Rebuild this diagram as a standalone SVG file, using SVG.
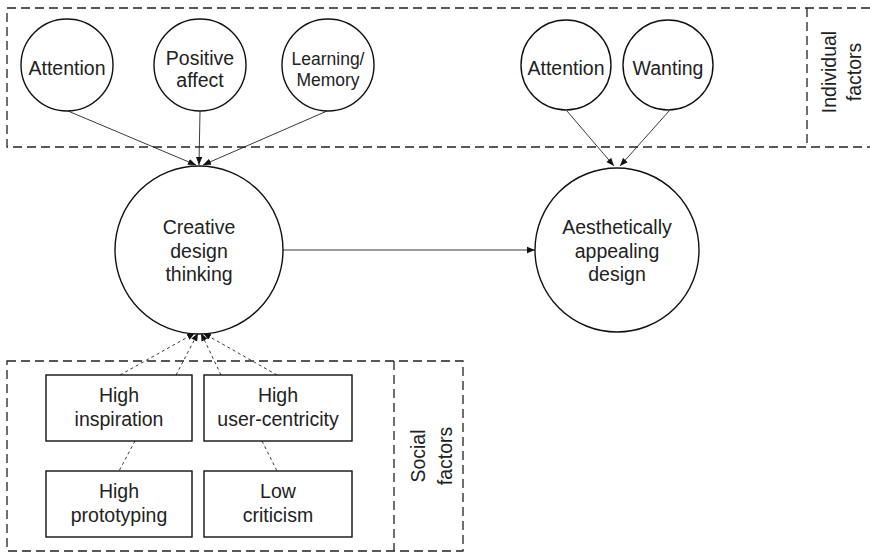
<svg xmlns="http://www.w3.org/2000/svg" width="870" height="553" viewBox="0 0 870 553">
<defs>
<marker id="ah" viewBox="0 0 10 10" refX="10" refY="5" markerWidth="8" markerHeight="8" markerUnits="userSpaceOnUse" orient="auto"><path d="M0,1 L10,5 L0,9 Z" fill="#111"/></marker>
<style>
.c{fill:#fff;stroke:#111;stroke-width:1.4}
.r{fill:#fff;stroke:#111;stroke-width:1.4}
.g{fill:none;stroke:#222;stroke-width:1.3;stroke-dasharray:9 5}
.t{font-family:"Liberation Sans",Arial,sans-serif;font-size:19.5px;fill:#222;text-anchor:middle}
.s{font-size:17.5px}
.l{stroke:#222;stroke-width:0.9;fill:none}
.d{stroke:#222;stroke-width:0.9;fill:none;stroke-dasharray:3 3}
</style>
</defs>
<g id="groups">
<path class="g" d="M870,8 H7 V147 H870"/>
<line class="g" x1="807" y1="8" x2="807" y2="147"/>
<text class="t" transform="translate(836,72) rotate(-90)">Individual</text>
<text class="t" transform="translate(861,72) rotate(-90)">factors</text>
<rect class="g" x="7" y="361" width="456" height="190"/>
<line class="g" x1="394" y1="361" x2="394" y2="551"/>
<text class="t" transform="translate(425,456) rotate(-90)">Social</text>
<text class="t" transform="translate(452,456) rotate(-90)">factors</text>
</g>
<g id="connectors">
<line class="l" x1="68" y1="111" x2="196" y2="165" marker-end="url(#ah)"/>
<line class="l" x1="200" y1="111" x2="199" y2="165" marker-end="url(#ah)"/>
<line class="l" x1="327" y1="111" x2="203" y2="165" marker-end="url(#ah)"/>
<line class="l" x1="567" y1="111" x2="614" y2="166" marker-end="url(#ah)"/>
<line class="l" x1="669" y1="111" x2="620" y2="166" marker-end="url(#ah)"/>
<line class="l" x1="282" y1="250" x2="535" y2="250" marker-end="url(#ah)"/>
<line class="d" x1="120" y1="375" x2="195" y2="333" marker-end="url(#ah)"/>
<line class="d" x1="176" y1="375" x2="198" y2="333" marker-end="url(#ah)"/>
<line class="d" x1="221" y1="375" x2="201" y2="333" marker-end="url(#ah)"/>
<line class="d" x1="277" y1="375" x2="203" y2="333" marker-end="url(#ah)"/>
<line class="d" x1="135" y1="441" x2="119" y2="471"/>
<line class="d" x1="262" y1="441" x2="277" y2="471"/>
</g>
<g id="attention1"><circle class="c" cx="67" cy="65" r="46"/><text class="t" x="67" y="75">Attention</text></g>
<g id="positive-affect"><circle class="c" cx="200" cy="65" r="46"/><text class="t" x="200" y="65">Positive</text><text class="t" x="200" y="87">affect</text></g>
<g id="learning-memory"><circle class="c" cx="328" cy="65" r="46"/><text class="t s" x="328" y="65">Learning/</text><text class="t s" x="328" y="86">Memory</text></g>
<g id="attention2"><circle class="c" cx="566" cy="65" r="45"/><text class="t" x="566" y="75">Attention</text></g>
<g id="wanting"><circle class="c" cx="668" cy="65" r="45"/><text class="t" x="668" y="75">Wanting</text></g>
<g id="creative"><circle class="c" cx="199" cy="250" r="84"/><text class="t" x="199" y="234">Creative</text><text class="t" x="199" y="258">design</text><text class="t" x="199" y="281">thinking</text></g>
<g id="aesthetic"><circle class="c" cx="617" cy="250" r="82"/><text class="t" x="617" y="234">Aesthetically</text><text class="t" x="617" y="258">appealing</text><text class="t" x="617" y="281">design</text></g>
<g id="high-inspiration"><rect class="r" x="46" y="375" width="146" height="66"/><text class="t" x="119" y="402">High</text><text class="t" x="119" y="426">inspiration</text></g>
<g id="high-user-centricity"><rect class="r" x="204" y="375" width="148" height="66"/><text class="t" x="278" y="402">High</text><text class="t" x="278" y="426">user-centricity</text></g>
<g id="high-prototyping"><rect class="r" x="46" y="471" width="146" height="66"/><text class="t" x="119" y="498">High</text><text class="t" x="119" y="522">prototyping</text></g>
<g id="low-criticism"><rect class="r" x="204" y="471" width="148" height="66"/><text class="t" x="278" y="498">Low</text><text class="t" x="278" y="522">criticism</text></g>
</svg>
